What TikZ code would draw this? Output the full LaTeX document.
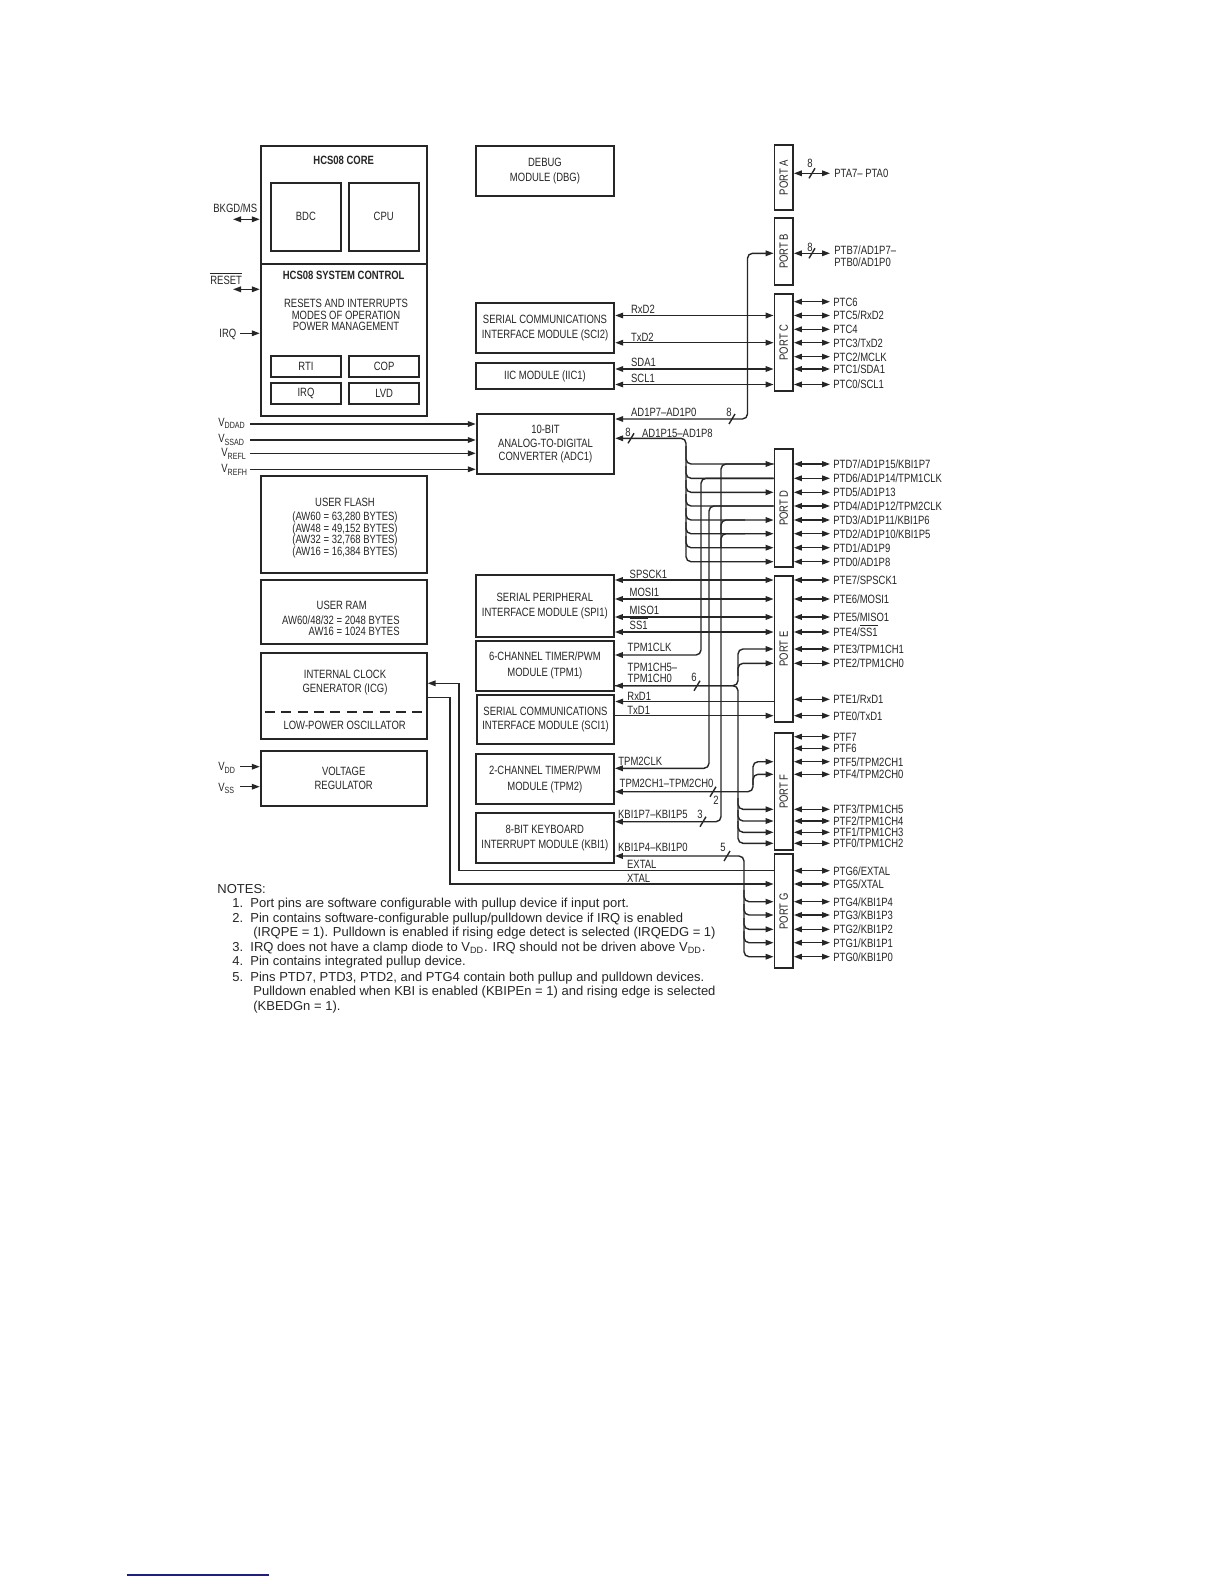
\documentclass[tikz,border=0pt]{standalone}
\usepackage{fontspec}
\setmainfont{Liberation Sans}[FakeStretch=0.79]
\newfontfamily\notesfont{Liberation Sans}
\usetikzlibrary{arrows.meta}
\definecolor{ink}{HTML}{262626}
\definecolor{navyline}{HTML}{1E1E82}
\newcommand\boxfont{\fontsize{6pt}{7.3pt}\selectfont}
\newcommand\sbs[1]{\raisebox{-0.45ex}{\fontsize{4.5pt}{4.5pt}\selectfont #1}}
\newcommand\mybox[7][]{\node[blk,#1,minimum width={(#5-#3)*0.5pt},minimum height={(#6-#4)*0.5pt}] (#2) at ({(#3+#5)/2},{(#4+#6)/2}) {#7};}
\newcommand\pinrow[4]{\draw[ln,<->] (#1.east |- 0,#2) -- (830,#2); \node[lab] (#4) at (833,#2) {#3};}
\newcommand\busmark[2]{\draw[ln] ({#1-3},{#2+5}) -- ({#1+3},{#2-5});}
\begin{document}
\begin{tikzpicture}[x=0.5pt,y=-0.5pt,
  blk/.style={draw=ink,line width=0.9pt,inner sep=0pt,align=center,font=\boxfont,text=ink},
  txt/.style={inner sep=0pt,align=center,font=\boxfont,text=ink},
  lab/.style={inner sep=0pt,anchor=base west,yshift=-2.15pt,font=\boxfont,text=ink},
  ln/.style={draw=ink,line width=0.7pt},
  rc/.style={rounded corners=2.5pt},
  note/.style={inner sep=0pt,anchor=base west,yshift=-2.33pt,font=\notesfont\fontsize{6.5pt}{7.3pt}\selectfont,text=ink},
  >={Triangle[length=4pt,width=2.8pt]}]
\useasboundingbox (0,0) rectangle (1224,1584);
\fill[white] (0,0) rectangle (1224,1584);

% ---------- left column boxes ----------
\mybox{core}{260.7}{146}{426.7}{416}{}
\draw[ln,line width=0.9pt] (core.west |- 0,264) -- (core.east |- 0,264);
\node[txt] (corettl) at (343.7,160) {\bfseries HCS08 CORE};
\mybox{bdc}{271}{182.7}{340.7}{251}{BDC}
\mybox{cpu}{348.7}{182.7}{418.7}{251}{CPU}
\node[txt] (systtl) at (343.7,275) {\bfseries HCS08 SYSTEM CONTROL};
\node[txt,font=\fontsize{6pt}{5.9pt}\selectfont] (sysmodes) at (346,315) {RESETS AND INTERRUPTS\\MODES OF OPERATION\\POWER MANAGEMENT};
\mybox{rti}{271}{355.7}{341}{377}{RTI}
\mybox{cop}{349.3}{355.7}{419}{377}{COP}
\mybox{irqb}{271}{383}{341}{404.3}{IRQ}
\mybox{lvd}{349.3}{383}{419}{404.3}{LVD}

\mybox{flash}{260.7}{475.7}{426.7}{572.7}{}
\node[txt] (flash1) at (345,502.3) {USER FLASH};
\node[txt,font=\fontsize{6pt}{5.83pt}\selectfont] (flash2) at (345,534.8) {(AW60 = 63,280 BYTES)\\(AW48 = 49,152 BYTES)\\(AW32 = 32,768 BYTES)\\(AW16 = 16,384 BYTES)};
\mybox{ram}{260.7}{580}{426.7}{644.3}{}
\node[txt] (ram1) at (341.7,605) {USER RAM};
\node[txt,align=right,anchor=east,font=\fontsize{6pt}{5.5pt}\selectfont] (ram2) at (400,626.2) {AW60/48/32 = 2048 BYTES\\AW16 = 1024 BYTES};
\mybox{icg}{260.7}{653.3}{426.7}{739.3}{}
\node[txt,font=\fontsize{6pt}{7pt}\selectfont] (icg1) at (345,683) {INTERNAL CLOCK\\GENERATOR (ICG)};
\draw[ln,line width=0.8pt,dash pattern=on 5pt off 3.2pt] (icg.west |- 0,711.7) ++(5,0) -- (424,711.7);
\node[txt] (icg2) at (344.7,725.7) {LOW-POWER OSCILLATOR};
\mybox{vreg}{260.7}{751}{426.7}{806}{VOLTAGE\\REGULATOR}

% ---------- middle column boxes ----------
\mybox[font=\fontsize{6pt}{7.2pt}\selectfont]{dbg}{475.7}{146}{614.3}{196}{DEBUG\\MODULE (DBG)}
\mybox[font=\fontsize{6pt}{7.5pt}\selectfont]{sci2}{475.7}{303.3}{614.3}{352.7}{SERIAL COMMUNICATIONS\\INTERFACE MODULE (SCI2)}
\mybox{iic}{475.7}{362.7}{614.3}{389.3}{IIC MODULE (IIC1)}
\mybox[font=\fontsize{6pt}{6.65pt}\selectfont]{adc}{476.7}{414.3}{614.3}{474}{10-BIT\\ANALOG-TO-DIGITAL\\CONVERTER (ADC1)}
\mybox[font=\fontsize{6pt}{7.2pt}\selectfont]{spi}{475.7}{575}{614}{637.3}{SERIAL PERIPHERAL\\INTERFACE MODULE (SPI1)}
\mybox[font=\fontsize{6pt}{8pt}\selectfont]{tpm1}{475.7}{641}{614}{690.7}{6-CHANNEL TIMER/PWM\\MODULE (TPM1)}
\mybox[font=\fontsize{6pt}{7pt}\selectfont]{sci1}{476.7}{695}{614.3}{744}{SERIAL COMMUNICATIONS\\INTERFACE MODULE (SCI1)}
\mybox[font=\fontsize{6pt}{8pt}\selectfont]{tpm2}{475.7}{754.3}{614}{804.3}{2-CHANNEL TIMER/PWM\\MODULE (TPM2)}
\mybox[font=\fontsize{6pt}{7.5pt}\selectfont]{kbi}{475.7}{813.3}{614}{863.3}{8-BIT KEYBOARD\\INTERRUPT MODULE (KBI1)}

% ---------- ports ----------
\mybox{portA}{774.5}{145}{793}{210}{\rotatebox{90}{PORT A}}
\mybox{portB}{774.5}{217.7}{793}{285}{\rotatebox{90}{PORT B}}
\mybox{portC}{774.5}{294.3}{793}{390.7}{\rotatebox{90}{PORT C}}
\mybox{portD}{774.5}{449}{793}{567.3}{\rotatebox{90}{PORT D}}
\mybox{portE}{774.5}{575.7}{793}{722.3}{\rotatebox{90}{PORT E}}
\mybox{portF}{774.5}{733.3}{793}{850}{\rotatebox{90}{PORT F}}
\mybox{portG}{774.5}{854.3}{793}{968.3}{\rotatebox{90}{PORT G}}

% ---------- left side signals ----------
\node[lab] (lbkgd) at (213,208) {BKGD/MS};
\draw[ln,<->] (233,219.3) -- (core.west |- 0,219.3);
\node[lab] (lreset) at (210,280) {$\overline{\mbox{RESET}}$};
\draw[ln,<->] (233,289.3) -- (core.west |- 0,289.3);
\node[lab] (lirq) at (219,333.3) {IRQ};
\draw[ln,->] (240,333.3) -- (core.west |- 0,333.3);
\node[lab] (lvddad) at (218,421.7) {V\sbs{DDAD}};
\node[lab] (lvssad) at (218,438.3) {V\sbs{SSAD}};
\node[lab] (lvrefl) at (221,452.3) {V\sbs{REFL}};
\node[lab] (lvrefh) at (221,468.3) {V\sbs{REFH}};
\draw[ln,->] (250,424) -- (adc.west |- 0,424);
\draw[ln,->] (250,440) -- (adc.west |- 0,440);
\draw[ln,->] (250,453.3) -- (adc.west |- 0,453.3);
\draw[ln,->] (250,469.3) -- (adc.west |- 0,469.3);
\node[lab] (lvdd) at (218,766) {V\sbs{DD}};
\node[lab] (lvss) at (218,786.7) {V\sbs{SS}};
\draw[ln,->] (240,766.7) -- (vreg.west |- 0,766.7);
\draw[ln,->] (240,786.7) -- (vreg.west |- 0,786.7);

% ---------- port A / B ----------
\draw[ln,<->] (portA.east |- 0,173.3) -- (830,173.3);
\busmark{812}{173.3}
\node[txt] (n8a) at (810,163) {8};
\node[lab] (pta) at (834,173.3) {PTA7– PTA0};
\draw[ln,<->] (portB.east |- 0,253.3) -- (830,253.3);
\busmark{812}{253.3}
\node[txt] (n8b) at (810,247) {8};
\node[lab] (ptb1) at (834,250) {PTB7/AD1P7–};
\node[lab] (ptb2) at (834,262.3) {PTB0/AD1P0};

% ---------- port C ----------
\draw[ln,<->] (sci2.east |- 0,315.5) -- (portC.west |- 0,315.5);
\draw[ln,<->] (sci2.east |- 0,342.7) -- (portC.west |- 0,342.7);
\draw[ln,<->] (iic.east |- 0,369) -- (portC.west |- 0,369);
\draw[ln,<->] (iic.east |- 0,384.5) -- (portC.west |- 0,384.5);
\node[lab] (lrxd2) at (630.7,309) {RxD2};
\node[lab] (ltxd2) at (630.7,337) {TxD2};
\node[lab] (lsda1) at (630.7,361.7) {SDA1};
\node[lab] (lscl1) at (630.7,377.7) {SCL1};
\pinrow{portC}{301.7}{PTC6}{pc6}
\pinrow{portC}{315.5}{PTC5/RxD2}{pc5}
\pinrow{portC}{329.3}{PTC4}{pc4}
\pinrow{portC}{342.7}{PTC3/TxD2}{pc3}
\pinrow{portC}{356.7}{PTC2/MCLK}{pc2}
\pinrow{portC}{369}{PTC1/SDA1}{pc1}
\pinrow{portC}{384.5}{PTC0/SCL1}{pc0}

% ---------- ADC to port B / port D ----------
\draw[ln,<->,rc] (adc.east |- 0,419) -| (747.5,253.3) -- (portB.west |- 0,253.3);
\busmark{732}{419}
\node[txt] (n8c) at (729,412) {8};
\node[lab] (lad07) at (630.7,412.3) {AD1P7–AD1P0};
\draw[ln,<->,rc] (adc.east |- 0,438.3) -| (686,561.7) -- (portD.west |- 0,561.7);
\busmark{631}{438.3}
\node[txt] (n8d) at (628,432) {8};
\node[lab] (lad815) at (641.7,432.7) {AD1P15–AD1P8};
\draw[ln,->,rc] (686,446) |- (portD.west |- 0,464);
\draw[ln,rc] (686,466) |- (portD.west |- 0,478.3);
\draw[ln,->,rc] (686,480) |- (portD.west |- 0,492.3);
\draw[ln,rc] (686,494) |- (portD.west |- 0,506);
\draw[ln,->,rc] (686,508) |- (portD.west |- 0,520);
\draw[ln,->,rc] (686,522) |- (portD.west |- 0,533.7);
\draw[ln,->,rc] (686,536) |- (portD.west |- 0,547.7);
\pinrow{portD}{464}{PTD7/AD1P15/KBI1P7}{pd7}
\pinrow{portD}{478.3}{PTD6/AD1P14/TPM1CLK}{pd6}
\pinrow{portD}{492.3}{PTD5/AD1P13}{pd5}
\pinrow{portD}{506}{PTD4/AD1P12/TPM2CLK}{pd4}
\pinrow{portD}{520}{PTD3/AD1P11/KBI1P6}{pd3}
\pinrow{portD}{533.7}{PTD2/AD1P10/KBI1P5}{pd2}
\pinrow{portD}{547.7}{PTD1/AD1P9}{pd1}
\pinrow{portD}{561.7}{PTD0/AD1P8}{pd0}

% ---------- port D to TPM1 / TPM2 / KBI ----------
\draw[ln,->,rc] (portD.west |- 0,478.3) -| (701,655) -- (tpm1.east |- 0,655);
\draw[ln,->,rc] (portD.west |- 0,506) -| (709,768.3) -- (tpm2.east |- 0,768.3);
\draw[ln,->,rc] (portD.west |- 0,464) -| (721,821.7) -- (kbi.east |- 0,821.7);
\draw[ln,rc] (721,534) |- (745,520);
\draw[ln,rc] (721,548) |- (745,533.7);
\node[lab] (ltpm1clk) at (627.3,647.3) {TPM1CLK};
\node[lab] (ltpm2clk) at (618,760.7) {TPM2CLK};
\busmark{703}{821.7}
\node[txt] (n3) at (700,814) {3};
\node[lab] (lkbi75) at (617.7,814.3) {KBI1P7–KBI1P5};

% ---------- port E ----------
\draw[ln,<->] (spi.east |- 0,580) -- (portE.west |- 0,580);
\draw[ln,<->] (spi.east |- 0,599) -- (portE.west |- 0,599);
\draw[ln,<->] (spi.east |- 0,617) -- (portE.west |- 0,617);
\draw[ln,<->] (spi.east |- 0,632) -- (portE.west |- 0,632);
\node[lab] (lspsck) at (629.3,574) {SPSCK1};
\node[lab] (lmosi) at (629.3,591.7) {MOSI1};
\node[lab] (lmiso) at (629.3,610) {MISO1};
\node[lab] (lss) at (629.3,625) {$\overline{\mbox{SS1}}$};
\draw[ln,<-] (sci1.east |- 0,701.5) -- (portE.west |- 0,701.5);
\draw[ln,->] (sci1.east |- 0,715.7) -- (portE.west |- 0,715.7);
\node[lab] (lrxd1) at (627,695.7) {RxD1};
\node[lab] (ltxd1) at (627,710) {TxD1};
\pinrow{portE}{580}{PTE7/SPSCK1}{pe7}
\pinrow{portE}{599}{PTE6/MOSI1}{pe6}
\pinrow{portE}{617}{PTE5/MISO1}{pe5}
\pinrow{portE}{632}{PTE4/$\overline{\mbox{SS1}}$}{pe4}
\pinrow{portE}{649}{PTE3/TPM1CH1}{pe3}
\pinrow{portE}{663.3}{PTE2/TPM1CH0}{pe2}
\pinrow{portE}{699.3}{PTE1/RxD1}{pe1}
\pinrow{portE}{715.7}{PTE0/TxD1}{pe0}

% ---------- TPM1 bus ----------
\draw[ln,<->,rc] (tpm1.east |- 0,685.7) -| (738,649) -- (portE.west |- 0,649);
\draw[ln,->,rc] (738,676) |- (portE.west |- 0,663.3);
\draw[ln,->,rc] (tpm1.east |- 0,685.7) -| (738,843.3) -- (portF.west |- 0,843.3);
\draw[ln,->,rc] (738,798) |- (portF.west |- 0,809.3);
\draw[ln,->,rc] (738,810) |- (portF.west |- 0,821);
\draw[ln,->,rc] (738,821) |- (portF.west |- 0,832.3);
\busmark{697}{685.7}
\node[txt] (n6) at (694,677) {6};
\node[lab] (ltpm1ch5) at (627.3,667.3) {TPM1CH5–};
\node[lab] (ltpm1ch0) at (627.3,678.3) {TPM1CH0};

% ---------- TPM2 bus ----------
\draw[ln,<->,rc] (tpm2.east |- 0,791.7) -| (753,761.7) -- (portF.west |- 0,761.7);
\draw[ln,->,rc] (753,785) |- (portF.west |- 0,774.3);
\busmark{713}{791.7}
\node[txt] (n2) at (716,800) {2};
\node[lab] (ltpm2ch) at (619.3,783.3) {TPM2CH1–TPM2CH0};

% ---------- port F ----------
\pinrow{portF}{736.7}{PTF7}{pf7}
\pinrow{portF}{748.3}{PTF6}{pf6}
\pinrow{portF}{761.7}{PTF5/TPM2CH1}{pf5}
\pinrow{portF}{774.3}{PTF4/TPM2CH0}{pf4}
\pinrow{portF}{809.3}{PTF3/TPM1CH5}{pf3}
\pinrow{portF}{821}{PTF2/TPM1CH4}{pf2}
\pinrow{portF}{832.3}{PTF1/TPM1CH3}{pf1}
\pinrow{portF}{843.3}{PTF0/TPM1CH2}{pf0}

% ---------- KBI low bus / port G ----------
\draw[ln,<->,rc] (kbi.east |- 0,856) -| (744,956.7) -- (portG.west |- 0,956.7);
\draw[ln,->,rc] (744,890) |- (portG.west |- 0,901.7);
\draw[ln,->,rc] (744,904) |- (portG.west |- 0,915);
\draw[ln,->,rc] (744,918) |- (portG.west |- 0,929.3);
\draw[ln,->,rc] (744,931) |- (portG.west |- 0,942.7);
\busmark{727}{856}
\node[txt] (n5) at (723,847) {5};
\node[lab] (lkbi40) at (617.7,847.3) {KBI1P4–KBI1P0};
\draw[ln,->] (portG.west |- 0,870.7) -| (459,683.3) -- (icg.east |- 0,683.3);
\draw[ln,->] (icg.east |- 0,697.3) -| (450,884) -- (portG.west |- 0,884);
\node[lab] (lextal) at (626.7,864) {EXTAL};
\node[lab] (lxtal) at (626.7,878.3) {XTAL};
\pinrow{portG}{870.7}{PTG6/EXTAL}{pg6}
\pinrow{portG}{884}{PTG5/XTAL}{pg5}
\pinrow{portG}{901.7}{PTG4/KBI1P4}{pg4}
\pinrow{portG}{915}{PTG3/KBI1P3}{pg3}
\pinrow{portG}{929.3}{PTG2/KBI1P2}{pg2}
\pinrow{portG}{942.7}{PTG1/KBI1P1}{pg1}
\pinrow{portG}{956.7}{PTG0/KBI1P0}{pg0}

% ---------- notes ----------
\node[note] (nt0) at (217,888.7) {NOTES:};
\node[note] (nt1) at (232,903) {\makebox[9pt][l]{1.}Port pins are software configurable with pullup device if input port.};
\node[note] (nt2) at (232,918) {\makebox[9pt][l]{2.}Pin contains software-configurable pullup/pulldown device if IRQ is enabled};
\node[note] (nt3) at (253,932) {(IRQPE = 1). Pulldown is enabled if rising edge detect is selected (IRQEDG = 1)};
\node[note] (nt4) at (232,947) {\makebox[9pt][l]{3.}IRQ does not have a clamp diode to V\textsubscript{DD}. IRQ should not be driven above V\textsubscript{DD}.};
\node[note] (nt5) at (232,961) {\makebox[9pt][l]{4.}Pin contains integrated pullup device.};
\node[note] (nt6) at (232,976.6) {\makebox[9pt][l]{5.}Pins PTD7, PTD3, PTD2, and PTG4 contain both pullup and pulldown devices.};
\node[note] (nt7) at (253,990.7) {Pulldown enabled when KBI is enabled (KBIPEn = 1) and rising edge is selected};
\node[note] (nt8) at (253,1006) {(KBEDGn = 1).};

% ---------- footer rule ----------
\coordinate (fl) at (126.7,1575);
\coordinate (fr) at (269,1575);
\draw[navyline,line width=1pt] (fl) -- (fr);
\end{tikzpicture}
\end{document}
